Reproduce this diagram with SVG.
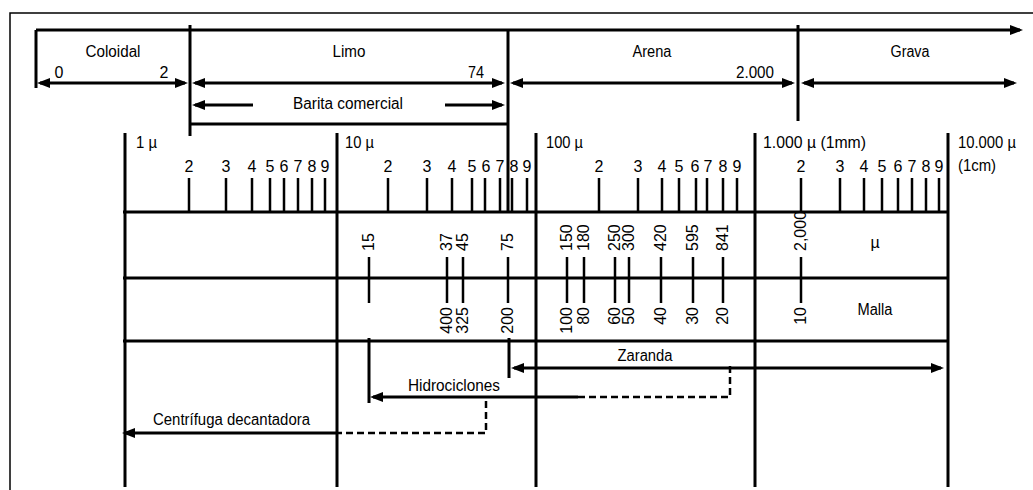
<svg xmlns="http://www.w3.org/2000/svg" width="1033" height="490" viewBox="0 0 1033 490">
<defs>
<marker id="ah" markerUnits="userSpaceOnUse" markerWidth="14" markerHeight="10" viewBox="0 0 14 10" refX="10" refY="5" orient="auto-start-reverse"><path d="M0,0 L13,5 L0,10 Z" fill="#000"/></marker>
</defs>
<style>
.l{stroke:#000;stroke-width:3;fill:none}
.f{stroke:#000;stroke-width:1.5;fill:none}
.t{stroke:#000;stroke-width:2.5;fill:none}
.d{stroke:#000;stroke-width:2.5;stroke-dasharray:7 4;fill:none}
text{font-family:"Liberation Sans",Arial,sans-serif;font-size:16px;fill:#000}
.c{text-anchor:middle}
.r{font-size:15px}
.e{text-anchor:end}
</style>
<rect width="1033" height="490" fill="#fff"/>
<g id="frame">
<path class="f" d="M10,490 V13 H1033"/>
</g>
<g id="classes">
<path class="l" d="M36,88 V30"/>
<path class="l" d="M190,25 V136"/>
<path class="l" d="M190,124 H508"/>
<path class="l" d="M508,30 V212"/>
<path class="l" d="M798,25 V121"/>
<text class="c" x="113" y="57" textLength="55" lengthAdjust="spacingAndGlyphs">Coloidal</text>
<text class="c" x="349" y="57" textLength="33" lengthAdjust="spacingAndGlyphs">Limo</text>
<text class="c" x="652" y="57" textLength="39" lengthAdjust="spacingAndGlyphs">Arena</text>
<text class="c" x="910" y="57" textLength="39" lengthAdjust="spacingAndGlyphs">Grava</text>
<text class="c" x="59" y="78">0</text>
<text class="c" x="164" y="78">2</text>
<text class="c" x="476" y="78" textLength="16" lengthAdjust="spacingAndGlyphs">74</text>
<text class="c" x="755" y="78" textLength="38" lengthAdjust="spacingAndGlyphs">2.000</text>
<text class="c" x="348" y="109" textLength="110" lengthAdjust="spacingAndGlyphs">Barita comercial</text>
</g>
<g id="scale">
<path class="l" d="M125,133 V487 M337,133 V487 M536,133 V487 M755,133 V487 M948,133 V487"/>
<path class="l" d="M123,212 H948 M123,278 H948 M123,341 H948"/>
<path class="t" d="M189,178V212M226,178V212M252,178V212M270,178V212M284,178V212M298,178V212M312,178V212M325,178V212M388,178V212M427,178V212M452,178V212M472,178V212M485,178V212M500,178V212M512,178V212M527,178V212M599,178V212M638,178V212M662,178V212M679,178V212M696,178V212M707,178V212M723,178V212M737,178V212M801,178V212M840,178V212M864,178V212M882,178V212M898,178V212M912,178V212M926,178V212M939,178V212"/>
<text x="136" y="148" textLength="21" lengthAdjust="spacingAndGlyphs">1 µ</text>
<text x="345" y="148" textLength="29" lengthAdjust="spacingAndGlyphs">10 µ</text>
<text x="546" y="148" textLength="37" lengthAdjust="spacingAndGlyphs">100 µ</text>
<text x="763" y="148" textLength="103" lengthAdjust="spacingAndGlyphs">1.000 µ (1mm)</text>
<text x="958" y="148" textLength="58" lengthAdjust="spacingAndGlyphs">10.000 µ</text>
<text x="958" y="171" textLength="38" lengthAdjust="spacingAndGlyphs">(1cm)</text>
<g class="c">
<text x="189" y="172">2</text><text x="226" y="172">3</text><text x="252" y="172">4</text><text x="270" y="172">5</text><text x="284" y="172">6</text><text x="298" y="172">7</text><text x="312" y="172">8</text><text x="325" y="172">9</text>
<text x="388" y="172">2</text><text x="427" y="172">3</text><text x="452" y="172">4</text><text x="472" y="172">5</text><text x="486" y="172">6</text><text x="500" y="172">7</text><text x="514" y="172">8</text><text x="527" y="172">9</text>
<text x="599" y="172">2</text><text x="638" y="172">3</text><text x="662" y="172">4</text><text x="679" y="172">5</text><text x="695" y="172">6</text><text x="708" y="172">7</text><text x="723" y="172">8</text><text x="737" y="172">9</text>
<text x="801" y="172">2</text><text x="840" y="172">3</text><text x="864" y="172">4</text><text x="882" y="172">5</text><text x="898" y="172">6</text><text x="912" y="172">7</text><text x="926" y="172">8</text><text x="939" y="172">9</text>
</g>
</g>
<g id="mesh">
<path class="t" d="M369,257V303M447,257V303M463,257V303M508,257V303M567,257V303M584,257V303M615,257V303M629,257V303M661,257V303M693,257V303M723,257V303M801,257V303"/>
<g class="r">
<text transform="translate(374,251) rotate(-90)">15</text>
<text transform="translate(452,251) rotate(-90)">37</text>
<text transform="translate(468,251) rotate(-90)">45</text>
<text transform="translate(513,251) rotate(-90)">75</text>
<text transform="translate(572,251) rotate(-90)">150</text>
<text transform="translate(589,251) rotate(-90)">180</text>
<text transform="translate(620,251) rotate(-90)">250</text>
<text transform="translate(634,251) rotate(-90)">300</text>
<text transform="translate(666,251) rotate(-90)">420</text>
<text transform="translate(698,251) rotate(-90)">595</text>
<text transform="translate(728,251) rotate(-90)">841</text>
<text transform="translate(806,251) rotate(-90)">2,000</text>
</g>
<g class="r e">
<text transform="translate(452,307) rotate(-90)">400</text>
<text transform="translate(468,307) rotate(-90)">325</text>
<text transform="translate(513,307) rotate(-90)">200</text>
<text transform="translate(572,307) rotate(-90)">100</text>
<text transform="translate(589,307) rotate(-90)">80</text>
<text transform="translate(620,307) rotate(-90)">60</text>
<text transform="translate(634,307) rotate(-90)">50</text>
<text transform="translate(666,307) rotate(-90)">40</text>
<text transform="translate(698,307) rotate(-90)">30</text>
<text transform="translate(728,307) rotate(-90)">20</text>
<text transform="translate(806,307) rotate(-90)">10</text>
</g>
<text class="c" x="875" y="248">µ</text>
<text class="c" x="875" y="315" textLength="35" lengthAdjust="spacingAndGlyphs">Malla</text>
</g>
<g id="equipment">
<path class="l" d="M509,338 V378"/>
<path class="l" d="M369,338 V403"/>
<text class="c" x="645" y="361" textLength="55" lengthAdjust="spacingAndGlyphs">Zaranda</text>
<text x="408" y="391" textLength="92" lengthAdjust="spacingAndGlyphs">Hidrociclones</text>
<text x="153" y="425" textLength="157" lengthAdjust="spacingAndGlyphs">Centrífuga decantadora</text>
</g>
<g id="connectors">
<line class="l" x1="36" y1="30" x2="1020" y2="30" marker-end="url(#ah)"/>
<line class="l" x1="40" y1="83" x2="185" y2="83" marker-start="url(#ah)" marker-end="url(#ah)"/>
<line class="l" x1="195" y1="83" x2="502" y2="83" marker-start="url(#ah)" marker-end="url(#ah)"/>
<line class="l" x1="513" y1="83" x2="792" y2="83" marker-start="url(#ah)" marker-end="url(#ah)"/>
<line class="l" x1="804" y1="83" x2="1014" y2="83" marker-start="url(#ah)" marker-end="url(#ah)"/>
<line class="l" x1="253" y1="105" x2="195" y2="105" marker-end="url(#ah)"/>
<line class="l" x1="445" y1="105" x2="502" y2="105" marker-end="url(#ah)"/>
<line class="l" x1="514" y1="368" x2="941" y2="368" marker-start="url(#ah)" marker-end="url(#ah)"/>
<path class="d" d="M730,366 V397 H577"/>
<line class="l" x1="578" y1="397" x2="373" y2="397" marker-end="url(#ah)"/>
<path class="d" d="M486,401 V433 H337"/>
<line class="l" x1="338" y1="433" x2="125" y2="433" marker-end="url(#ah)"/>
</g>
</svg>
